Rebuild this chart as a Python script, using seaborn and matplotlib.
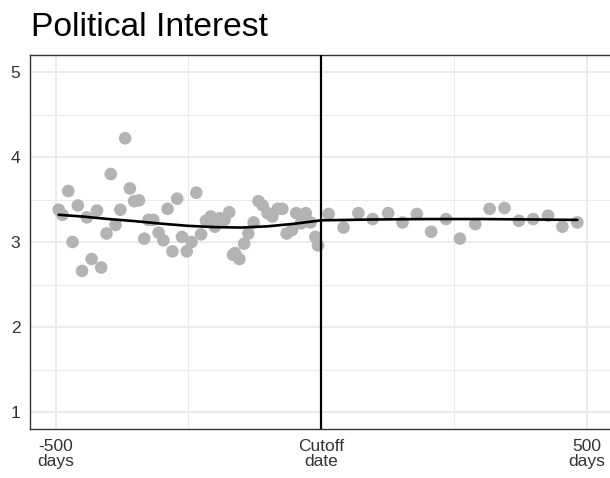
import pandas as pd
import matplotlib
matplotlib.use("Agg")
import matplotlib.pyplot as plt
import seaborn as sns

# Days relative to the cutoff date and mean political interest per period
days_before = [-494, -487, -476, -468, -458, -450, -441, -432, -422, -414,
               -404, -396, -387, -378, -369, -360, -352, -343, -333, -325,
               -316, -306, -297, -289, -280, -271, -262, -253, -244, -235,
               -226, -217, -208, -200, -191, -182, -173, -166, -162, -154,
               -145, -137, -127, -118, -110, -101, -92, -82, -73, -65,
               -55, -47, -38, -29, -20, -11, -6]
interest_before = [3.38, 3.32, 3.60, 3.00, 3.43, 2.66, 3.29, 2.80, 3.37, 2.70,
                   3.10, 3.80, 3.20, 3.38, 4.22, 3.63, 3.48, 3.49, 3.04, 3.26,
                   3.26, 3.11, 3.02, 3.39, 2.89, 3.51, 3.06, 2.89, 3.00, 3.58,
                   3.09, 3.25, 3.30, 3.18, 3.28, 3.26, 3.35, 2.85, 2.87, 2.80,
                   2.98, 3.10, 3.23, 3.48, 3.43, 3.34, 3.30, 3.39, 3.39, 3.10,
                   3.14, 3.34, 3.22, 3.34, 3.23, 3.06, 2.96]
days_after = [14, 42, 70, 97, 126, 153, 180, 207, 235, 261,
              290, 317, 345, 372, 399, 427, 454, 482]
interest_after = [3.33, 3.17, 3.34, 3.27, 3.34, 3.23, 3.33, 3.12, 3.27, 3.04,
                  3.21, 3.39, 3.40, 3.25, 3.27, 3.31, 3.18, 3.23]

# Smoothed trend on each side of the cutoff
trend_days_before = [-494, -450, -400, -350, -300, -250, -200, -150, -100, -50, 0]
trend_before = [3.32, 3.30, 3.27, 3.245, 3.215, 3.19, 3.175, 3.17, 3.185, 3.215, 3.255]
trend_days_after = [0, 100, 200, 300, 400, 482]
trend_after = [3.255, 3.265, 3.27, 3.27, 3.265, 3.26]

x_ticks = [-500, 0, 500]
x_tick_labels = ["-500\ndays", "Cutoff\ndate", "500\ndays"]
y_ticks = [1, 2, 3, 4, 5]
title = "Political Interest"

pts = pd.concat([
    pd.DataFrame({"day": days_before, "interest": interest_before}),
    pd.DataFrame({"day": days_after, "interest": interest_after}),
])
trend = pd.concat([
    pd.DataFrame({"day": trend_days_before, "interest": trend_before, "side": "before"}),
    pd.DataFrame({"day": trend_days_after, "interest": trend_after, "side": "after"}),
])

sns.set_style("white")
plt.rcParams["font.family"] = ["Liberation Sans", "DejaVu Sans"]

fig = plt.figure(figsize=(6.10, 4.78), dpi=100)
W, H = 610, 478
ax = fig.add_axes([30 / W, (H - 429) / H, (640 - 30) / W, (429 - 55) / H])

ax.set_xlim(-548, 600)
ax.set_ylim(0.8, 5.2)

# grid: major and minor lines in the light grey of a bw theme
ax.set_xticks(x_ticks)
ax.set_xticks([-250, 250], minor=True)
ax.set_yticks(y_ticks)
ax.set_yticks([1.5, 2.5, 3.5, 4.5], minor=True)
ax.grid(which="major", color="#EBEBEB", linewidth=1.4, zorder=0)
ax.grid(which="minor", color="#EBEBEB", linewidth=0.7, zorder=0)
ax.set_axisbelow(True)

sns.scatterplot(data=pts, x="day", y="interest", color="#B3B3B3", s=82,
                edgecolor="none", ax=ax, zorder=2, legend=False)
sns.lineplot(data=trend, x="day", y="interest", units="side", estimator=None,
             color="black", linewidth=1.9, ax=ax, zorder=3, legend=False)
ax.axvline(0, color="black", linewidth=1.6, zorder=4)

ax.set_xticklabels(x_tick_labels)
ax.tick_params(axis="both", which="major", length=4, width=1.0, color="#333333",
               labelsize=12.5, labelcolor="#333333", pad=3)
ax.tick_params(axis="both", which="minor", length=0)
for lbl in ax.get_xticklabels():
    lbl.set_linespacing(1.0)
    lbl.set_horizontalalignment("center")
    lbl.set_multialignment("center")

for name, sp in ax.spines.items():
    sp.set_color("#333333")
    sp.set_linewidth(1.0)
ax.spines["right"].set_visible(False)

ax.set_xlabel("")
ax.set_ylabel("")
fig.text(31 / W, 1 - 36 / H, title, fontsize=24.2, color="black",
         ha="left", va="baseline")

fig.savefig("out.png", dpi=100)
